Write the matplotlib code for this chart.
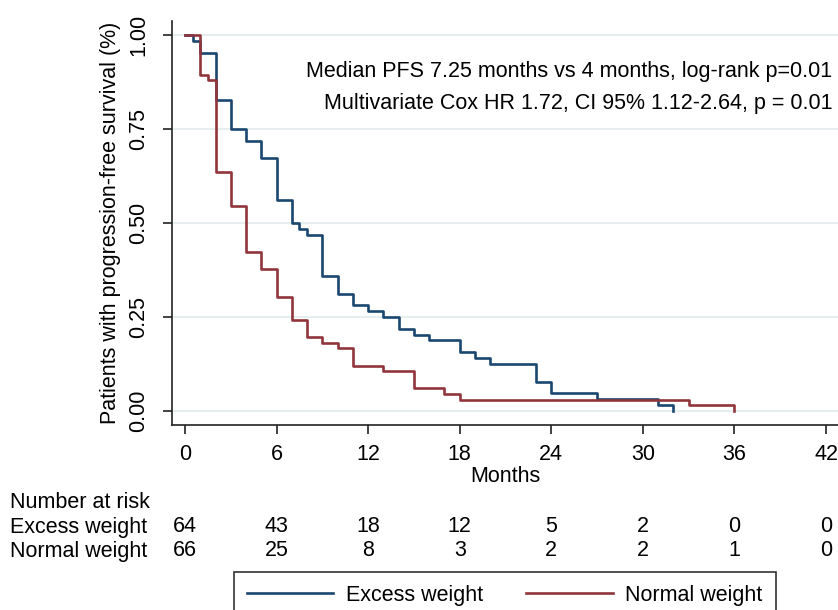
import matplotlib
matplotlib.use("Agg")
import matplotlib.pyplot as plt
import matplotlib.transforms as mtransforms

plt.rcParams['font.family'] = ['Liberation Sans', 'DejaVu Sans']

# Kaplan-Meier curves (months, survival)
excess_t = [0, 0.5, 1, 2, 3, 4, 5, 6, 7, 7.5, 8, 9, 10, 11, 12, 13, 14, 15, 16,
            18, 19, 20, 23, 24, 27, 31, 32]
excess_s = [1.0, 0.984, 0.953, 0.828, 0.75, 0.719, 0.672, 0.562, 0.5, 0.484, 0.469,
            0.359, 0.312, 0.281, 0.266, 0.25, 0.219, 0.203, 0.188, 0.156, 0.141,
            0.125, 0.078, 0.047, 0.031, 0.016, 0.0]
normal_t = [0, 1, 1.5, 2, 3, 4, 5, 6, 7, 8, 9, 10, 11, 13, 15, 17, 18, 33, 36]
normal_s = [1.0, 0.894, 0.879, 0.636, 0.545, 0.424, 0.379, 0.303, 0.242, 0.197,
            0.182, 0.167, 0.121, 0.106, 0.061, 0.045, 0.030, 0.015, 0.0]

risk_months = [0, 6, 12, 18, 24, 30, 36, 42]
risk_excess = [64, 43, 18, 12, 5, 2, 0, 0]
risk_normal = [66, 25, 8, 3, 2, 2, 1, 0]

blue = "#1a476f"
red = "#90353b"
grid_col = "#e6eef0"
fs = 15.5

fig = plt.figure(figsize=(8.38, 6.10), dpi=100)
ax = fig.add_axes([172 / 838, 1 - 425 / 610, 667 / 838, 404 / 610])

ax.step(excess_t, excess_s, where="post", color=blue, lw=1.9, label="Excess weight")
ax.step(normal_t, normal_s, where="post", color=red, lw=1.9, label="Normal weight")

ax.set_xlim(-0.85, 42.85)
ax.set_ylim(-0.037, 1.037)
ax.set_xticks(risk_months)
ax.set_yticks([0, 0.25, 0.5, 0.75, 1.0])
ax.set_yticklabels(["0.00", "0.25", "0.50", "0.75", "1.00"], rotation=90, va="center")
ax.tick_params(labelsize=fs, length=6.5, width=1.2, color="#222222")
ax.tick_params(axis="x", pad=7)
ax.tick_params(axis="y", pad=10)
ax.grid(axis="y", color=grid_col, lw=1.5)
ax.set_axisbelow(True)
for side in ["top", "right"]:
    ax.spines[side].set_visible(False)
for side in ["left", "bottom"]:
    ax.spines[side].set_linewidth(1.2)
    ax.spines[side].set_color("#222222")

ax.set_xlabel("Months", fontsize=fs, labelpad=1)
ax.set_ylabel("Patients with progression-free survival (%)", fontsize=fs, labelpad=5)

ax.text(0.99, 0.874, "Median PFS 7.25 months vs 4 months, log-rank p=0.01",
        transform=ax.transAxes, ha="right", va="center", fontsize=fs)
ax.text(0.99, 0.795, "Multivariate Cox HR 1.72, CI 95% 1.12-2.64, p = 0.01",
        transform=ax.transAxes, ha="right", va="center", fontsize=fs)

# number at risk table
trans = mtransforms.blended_transform_factory(ax.transData, fig.transFigure)
fig.text(10 / 838, 1 - 503 / 610, "Number at risk", fontsize=fs, va="center")
fig.text(10 / 838, 1 - 527 / 610, "Excess weight", fontsize=fs, va="center")
fig.text(10 / 838, 1 - 551 / 610, "Normal weight", fontsize=fs, va="center")
for m, e, n in zip(risk_months, risk_excess, risk_normal):
    ax.text(m, 1 - 527 / 610, str(e), transform=trans, ha="center", va="center", fontsize=fs)
    ax.text(m, 1 - 551 / 610, str(n), transform=trans, ha="center", va="center", fontsize=fs)

leg = fig.legend(loc="upper center", bbox_to_anchor=(505 / 838, 1 - 572 / 610), ncol=2,
                 fontsize=fs, frameon=True, fancybox=False, edgecolor="black",
                 handlelength=4, handletextpad=0.6, columnspacing=2, borderpad=0.6,
                 borderaxespad=0)
leg.get_frame().set_linewidth(1.2)

fig.savefig("out.png", dpi=100)
